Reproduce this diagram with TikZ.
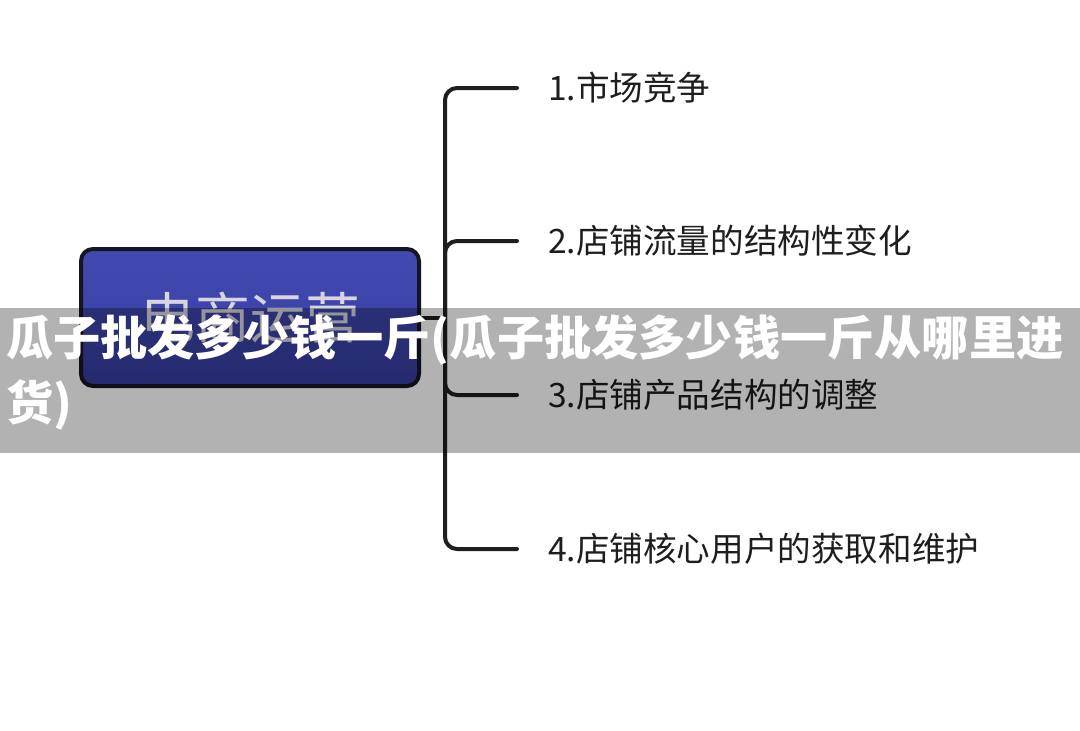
\documentclass[tikz,border=0pt]{standalone}
\usepackage{fontspec}
\setmainfont{Noto Sans CJK SC}
\definecolor{boxtop}{RGB}{66,74,176}
\definecolor{boxbot}{RGB}{54,62,162}
\definecolor{boxedge}{RGB}{22,22,34}
\definecolor{ink}{RGB}{30,30,30}
\definecolor{boxtext}{RGB}{214,214,224}
\tikzset{
  mainbox/.style={draw=boxedge, line width=4pt, rounded corners=12pt,
    top color=boxtop, bottom color=boxbot, minimum width=338pt, minimum height=137pt,
    inner sep=0pt, text=boxtext, font=\fontsize{55}{60}\selectfont},
  conn/.style={draw=ink, line width=4pt, line cap=round, line join=round},
  item/.style={anchor=west, inner sep=0pt, text=ink, font=\fontsize{33.6}{38}\selectfont},
  overlaytext/.style={anchor=north west, inner sep=0pt, text=white, align=left,
    font=\bfseries\fontsize{47.2}{65}\selectfont}
}
\begin{document}
\begin{tikzpicture}[x=1pt, y=-1pt]
\useasboundingbox[fill=white] (0,0) rectangle (1080,731);
\node[mainbox] (main) at (250,317.5) {电商运营};
\coordinate (j) at (445,317.5);
\coordinate (b1) at (517,88);
\coordinate (b2) at (517,241);
\coordinate (b3) at (517,395);
\coordinate (b4) at (517,549);
\draw[conn] (main.east) -- (j);
\draw[conn, rounded corners=12pt] (j) |- (b1);
\draw[conn, rounded corners=12pt] (j) |- (b2);
\draw[conn, rounded corners=12pt] (j) |- (b3);
\draw[conn, rounded corners=12pt] (j) |- (b4);
\node[item] (t1) at (548,88) {1.市场竞争};
\node[item] (t2) at (548,241) {2.店铺流量的结构性变化};
\node[item] (t3) at (548,395) {3.店铺产品结构的调整};
\node[item] (t4) at (548,549) {4.店铺核心用户的获取和维护};
\fill[black, opacity=0.3] (0,308) rectangle (1080,453);
\node[overlaytext] (ov) at (6,315) {瓜子批发多少钱一斤(瓜子批发多少钱一斤从哪里进\\货)};
\end{tikzpicture}
\end{document}
